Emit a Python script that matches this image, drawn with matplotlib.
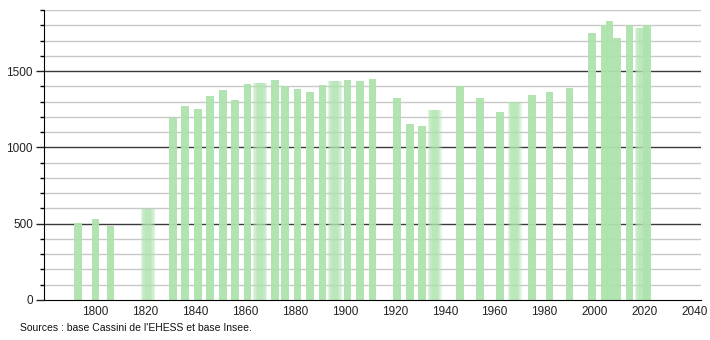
import matplotlib
matplotlib.use("Agg")
import matplotlib.pyplot as plt
import numpy as np

years = [1793, 1800, 1806, 1821, 1831, 1836, 1841, 1846, 1851, 1856,
         1861, 1866, 1872, 1876, 1881, 1886, 1891, 1896, 1901, 1906, 1911,
         1921, 1926, 1931, 1936, 1946, 1954, 1962, 1968, 1975, 1982, 1990,
         1999, 2004, 2006, 2009, 2014, 2019, 2021]
population = [507, 533, 487, 597, 1193, 1270, 1250, 1338, 1377, 1311,
              1414, 1421, 1441, 1399, 1382, 1362, 1406, 1432, 1441, 1434, 1447,
              1322, 1151, 1138, 1243, 1399, 1322, 1230, 1298, 1342, 1362, 1388,
              1750, 1800, 1831, 1717, 1803, 1783, 1800]
blurred_years = [1821, 1866, 1896, 1936, 1968, 2019]
x_ticks = [1800, 1820, 1840, 1860, 1880, 1900, 1920, 1940, 1960, 1980, 2000, 2020, 2040]
y_ticks = [0, 500, 1000, 1500]
source_text = "Sources : base Cassini de l'EHESS et base Insee."

plt.rcParams['font.family'] = ['Liberation Sans', 'DejaVu Sans']

fig = plt.figure(figsize=(7.1, 3.4), dpi=100)
ax = fig.add_axes([44/710, 40/340, (701-44)/710, 290/340])

bar_color = '#ade3ad'
bw = 3.1

# gridlines
for v in range(100, 2000, 100):
    if v % 500 == 0:
        ax.axhline(v, color='#3a3a3a', lw=1.0, zorder=1)
    else:
        ax.axhline(v, color='#c8c8c8', lw=1.0, zorder=1)

for yr, p in zip(years, population):
    if yr in blurred_years:
        for w in [5.6, 4.6, 3.6, 2.6]:
            ax.bar(yr, p, width=w, color=bar_color, alpha=0.35, lw=0, zorder=2)
    else:
        ax.bar(yr, p, width=bw, color=bar_color, alpha=0.95, lw=0, zorder=2)

ax.set_xlim(1779.4, 2042.7)
ax.set_ylim(0, 1900)

ax.set_yticks(y_ticks)
ax.set_yticks(range(0, 2000, 100), minor=True)
ax.tick_params(axis='y', which='major', length=6, width=1, direction='out',
               labelsize=8.5, colors='#222222', pad=2)
ax.tick_params(axis='y', which='minor', length=3, width=1, direction='out')
ax.set_xticks(x_ticks)
ax.tick_params(axis='x', which='both', length=0, labelsize=8.5, colors='#222222', pad=4)

for s in ['top', 'right']:
    ax.spines[s].set_visible(False)
ax.spines['left'].set_color('black')
ax.spines['bottom'].set_color('black')
ax.spines['left'].set_zorder(3)
ax.spines['bottom'].set_zorder(3)

fig.text(20/710, 1 - 328/340, source_text, fontsize=7.5, color='#111111',
         va='center', ha='left')

fig.savefig('out.png', dpi=100)
